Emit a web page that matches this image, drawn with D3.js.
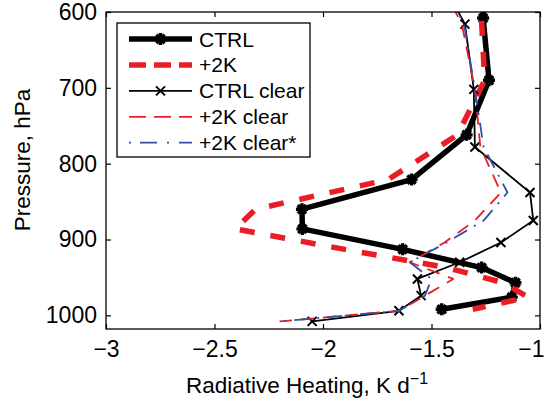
<!DOCTYPE html>
<html>
<head>
<meta charset="utf-8">
<script src="https://cdn.jsdelivr.net/npm/d3@7"></script>
<style>
  body { margin: 0; background: #fff; }
  svg text { font-family: "Liberation Sans", Arial, sans-serif; fill: #000; }
</style>
</head>
<body>
<div class="graphic"></div>
<script>
// pressure levels (hPa) and heating rates (K/d)
var cloudyP   = [530, 608, 690, 762, 821, 860, 886, 913, 937, 957, 976, 992];
var ctrlX     = [-1.265, -1.262, -1.235, -1.338, -1.592, -2.097, -2.095, -1.633, -1.269, -1.113, -1.130, -1.453];
var plus2kX   = [-1.275, -1.270, -1.255, -1.380, -1.700, -2.310, -2.405, -1.900, -1.430, -1.170, -1.055, -1.310];

var clearP          = [540, 616, 702, 778, 838, 875, 904, 930, 952, 974, 994, 1008];
var ctrlClearX      = [-1.49, -1.346, -1.305, -1.300, -1.046, -1.031, -1.180, -1.370, -1.565, -1.548, -1.650, -2.05];
var plus2kClearX    = [-1.50, -1.360, -1.300, -1.275, -1.180, -1.300, -1.440, -1.600, -1.400, -1.530, -1.650, -2.20];
var plus2kClearSX   = [-1.49, -1.350, -1.300, -1.260, -1.150, -1.260, -1.430, -1.600, -1.500, -1.530, -1.650, -2.20];

var xTicks = [-3, -2.5, -2, -1.5, -1];
var yTicks = [600, 700, 800, 900, 1000];
var legendLabels = ["CTRL", "+2K", "CTRL clear", "+2K clear", "+2K clear*"];

var RED = "#ea1d25", BLUE = "#2f52a8";

var svg_width = 545, svg_height = 404;
var mLeft = 106, mRight = 540, mTop = 12, mBottom = 329;

var svg = d3.select(".graphic")
  .append("svg")
  .attr("width", svg_width)
  .attr("height", svg_height);

var x = d3.scaleLinear().domain([-3, -1]).range([mLeft, mRight]);
var y = d3.scaleLinear().domain([600, 1018]).range([mTop, mBottom]);

// axes, MATLAB style: ticks inward on all four sides
var xAxisG = svg.append("g")
  .attr("transform", "translate(0," + mBottom + ")")
  .call(d3.axisBottom(x).tickValues(xTicks).tickSize(-5).tickPadding(12).tickFormat(d3.format("")));
svg.append("g")
  .attr("transform", "translate(0," + mTop + ")")
  .call(d3.axisTop(x).tickValues(xTicks).tickSize(-5).tickFormat(""));
svg.append("g")
  .attr("transform", "translate(" + mLeft + ",0)")
  .call(d3.axisLeft(y).tickValues(yTicks).tickSize(-5).tickPadding(9).tickFormat(d3.format("d")));
svg.append("g")
  .attr("transform", "translate(" + mRight + ",0)")
  .call(d3.axisRight(y).tickValues(yTicks).tickSize(-5).tickFormat(""));

svg.selectAll(".domain").remove();
svg.selectAll(".tick line").attr("stroke", "#000").attr("stroke-width", 1.2);
svg.selectAll(".tick text").attr("font-size", "23px").attr("font-family", "Liberation Sans, Arial, sans-serif");
// last x label sits against the right edge
xAxisG.selectAll(".tick text")
  .filter(function(d) { return d == -1; })
  .attr("text-anchor", "end")
  .attr("x", 544 - mRight);

svg.append("defs").append("clipPath").attr("id", "plotclip")
  .append("rect")
  .attr("x", mLeft).attr("y", mTop)
  .attr("width", mRight - mLeft).attr("height", mBottom - mTop);

var plot = svg.append("g").attr("clip-path", "url(#plotclip)");

function zip(xs, ps) {
  return xs.map(function(v, i) { return [v, ps[i]]; });
}

var line = d3.line()
  .x(function(d) { return x(d[0]); })
  .y(function(d) { return y(d[1]); });

// asterisk marker (MATLAB '*') and cross marker ('x')
function starPath(s) {
  var d = s * 0.7;
  return "M" + (-s) + ",0L" + s + ",0M0," + (-s) + "L0," + s +
         "M" + (-d) + "," + (-d) + "L" + d + "," + d +
         "M" + (-d) + "," + d + "L" + d + "," + (-d);
}
function crossPath(s) {
  return "M" + (-s) + "," + (-s) + "L" + s + "," + s + "M" + (-s) + "," + s + "L" + s + "," + (-s);
}

var series = [
  {name: "CTRL", data: zip(ctrlX, cloudyP), color: "#000", width: 5.5, dash: null, legendDash: null, marker: "star"},
  {name: "+2K", data: zip(plus2kX, cloudyP), color: RED, width: 5.5, dash: "15,16", legendDash: "17,8", marker: null},
  {name: "CTRL clear", data: zip(ctrlClearX, clearP), color: "#000", width: 1.8, dash: null, legendDash: null, marker: "cross"},
  {name: "+2K clear", data: zip(plus2kClearX, clearP), color: RED, width: 1.8, dash: "13,9", legendDash: "17,8", marker: null},
  {name: "+2K clear*", data: zip(plus2kClearSX, clearP), color: BLUE, width: 1.8, dash: "15,8,2,8", legendDash: "2,9,17,10,2,10,17", marker: null}
];

series.forEach(function(s) {
  plot.append("path")
    .datum(s.data)
    .attr("d", line)
    .attr("fill", "none")
    .attr("stroke", s.color)
    .attr("stroke-width", s.width)
    .attr("stroke-linejoin", "round")
    .attr("stroke-dasharray", s.dash);

  if (s.marker) {
    plot.selectAll(null)
      .data(s.data)
      .enter()
      .append("path")
      .attr("transform", function(d) { return "translate(" + x(d[0]) + "," + y(d[1]) + ")"; })
      .attr("d", s.marker == "star" ? starPath(6) : crossPath(4.5))
      .attr("fill", "none")
      .attr("stroke", s.color)
      .attr("stroke-width", s.marker == "star" ? 3.4 : 2);
  }
});

// frame
svg.append("rect")
  .attr("x", mLeft).attr("y", mTop)
  .attr("width", mRight - mLeft).attr("height", mBottom - mTop)
  .attr("fill", "none")
  .attr("stroke", "#000")
  .attr("stroke-width", 1.3);

// legend
var legend = svg.append("g");
legend.append("rect")
  .attr("x", 117).attr("y", 23)
  .attr("width", 193).attr("height", 134)
  .attr("fill", "#fff")
  .attr("stroke", "#000")
  .attr("stroke-width", 1.3);

var rowY = d3.scalePoint().domain(legendLabels).range([39, 142.7]);

series.forEach(function(s) {
  var ly = rowY(s.name);
  legend.append("line")
    .attr("x1", 129).attr("x2", 192)
    .attr("y1", ly).attr("y2", ly)
    .attr("stroke", s.color)
    .attr("stroke-width", s.width)
    .attr("stroke-dasharray", s.legendDash);
  if (s.marker) {
    legend.append("path")
      .attr("transform", "translate(160.5," + ly + ")")
      .attr("d", s.marker == "star" ? starPath(6) : crossPath(4.5))
      .attr("fill", "none")
      .attr("stroke", s.color)
      .attr("stroke-width", s.marker == "star" ? 3.4 : 2);
  }
  legend.append("text")
    .attr("x", 199)
    .attr("y", ly + 7.5)
    .attr("font-size", "21px")
    .text(s.name);
});

// axis titles
var xt = svg.append("text")
  .attr("x", 307)
  .attr("y", 393)
  .attr("text-anchor", "middle")
  .attr("font-size", "22.5px");
xt.append("tspan").text("Radiative Heating, K d");
xt.append("tspan").attr("dy", -9).attr("font-size", "16px").text("\u22121");

svg.append("text")
  .attr("transform", "translate(30,160) rotate(-90)")
  .attr("text-anchor", "middle")
  .attr("font-size", "22.5px")
  .text("Pressure, hPa");
</script>
</body>
</html>
